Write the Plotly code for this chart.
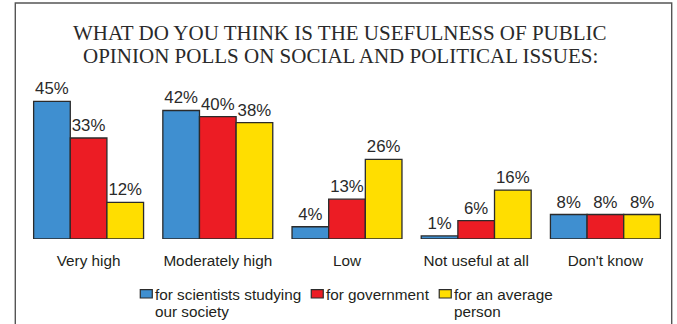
import plotly.graph_objects as go

# Survey answers and the three audiences asked about
categories = ["Very high", "Moderately high", "Low", "Not useful at all", "Don't know"]
series_names = [
    "for scientists studying<br>our society",
    "for government",
    "for an average<br>person",
]
scientists = [45, 42, 4, 1, 8]
government = [33, 40, 13, 6, 8]
average_person = [12, 38, 26, 16, 8]
series_values = [scientists, government, average_person]
series_colors = ["#3F8FD0", "#EC1C24", "#FFDE00"]

title_lines = [
    "WHAT DO YOU THINK IS THE USEFULNESS OF PUBLIC",
    "OPINION POLLS ON SOCIAL AND POLITICAL ISSUES:",
]

W, H = 677, 324
ML, MR, MT, MB = 23.7, 7.2, 85.8, 84.7
PW, PH = W - ML - MR, H - MT - MB

def px2x(px):
    return (px - ML) / PW

def py2y(py):
    return (H - MB - py) / PH

TEXT = "#231F20"
OUTLINE = "#2B2B2B"
SANS = "Liberation Sans, Arial, sans-serif"

fig = go.Figure()
for name, vals, color in zip(series_names, series_values, series_colors):
    fig.add_trace(go.Bar(
        x=categories,
        y=vals,
        name=name.replace("<br>", " "),
        marker=dict(color=color, line=dict(color=OUTLINE, width=1.3)),
        texttemplate="%{y}%",
        textposition="outside",
        textfont=dict(family=SANS, size=16.8, color="#2A2A2A"),
        cliponaxis=False,
        showlegend=False,
    ))

shapes = []
annotations = []

# Outer frame around the whole chart
shapes.append(dict(
    type="rect", xref="paper", yref="paper",
    x0=px2x(15), x1=px2x(671.5), y0=py2y(340), y1=py2y(2.5),
    line=dict(color="#555555", width=1.4), fillcolor="rgba(0,0,0,0)", layer="below",
))

# Two-line title
for line, cy in zip(title_lines, [32.5, 56.0]):
    annotations.append(dict(
        text=line, xref="paper", yref="paper",
        x=px2x(340), y=py2y(cy), xanchor="center", yanchor="middle",
        showarrow=False,
        font=dict(family="Liberation Serif, Times New Roman, serif", size=21, color="#2A2A2A"),
    ))

# Legend built from the series names and colours, one text line at a time
swatch_left = [140, 311, 439]
line_centres = [294.5, 312.5]
for name, color, sx in zip(series_names, series_colors, swatch_left):
    shapes.append(dict(
        type="rect", xref="paper", yref="paper",
        x0=px2x(sx), x1=px2x(sx + 12), y0=py2y(298.5), y1=py2y(290),
        fillcolor=color, line=dict(color=OUTLINE, width=1.2),
    ))
    for part, cy in zip(name.split("<br>"), line_centres):
        annotations.append(dict(
            text=part, xref="paper", yref="paper",
            x=px2x(sx + 13), y=py2y(cy), xanchor="left", yanchor="middle",
            align="left", showarrow=False,
            font=dict(family=SANS, size=15.3, color=TEXT),
        ))

fig.update_layout(
    width=W, height=H,
    margin=dict(l=ML, r=MR, t=MT, b=MB, pad=0),
    paper_bgcolor="white", plot_bgcolor="white",
    barmode="group", bargap=0.149, bargroupgap=0,
    shapes=shapes, annotations=annotations,
    xaxis=dict(
        showgrid=False, zeroline=False, showline=False, ticks="",
        tickfont=dict(family=SANS, size=15.3, color=TEXT),
        ticklabelstandoff=11,
    ),
    yaxis=dict(visible=False, range=[0, 50]),
)

fig.write_html("out.html")
